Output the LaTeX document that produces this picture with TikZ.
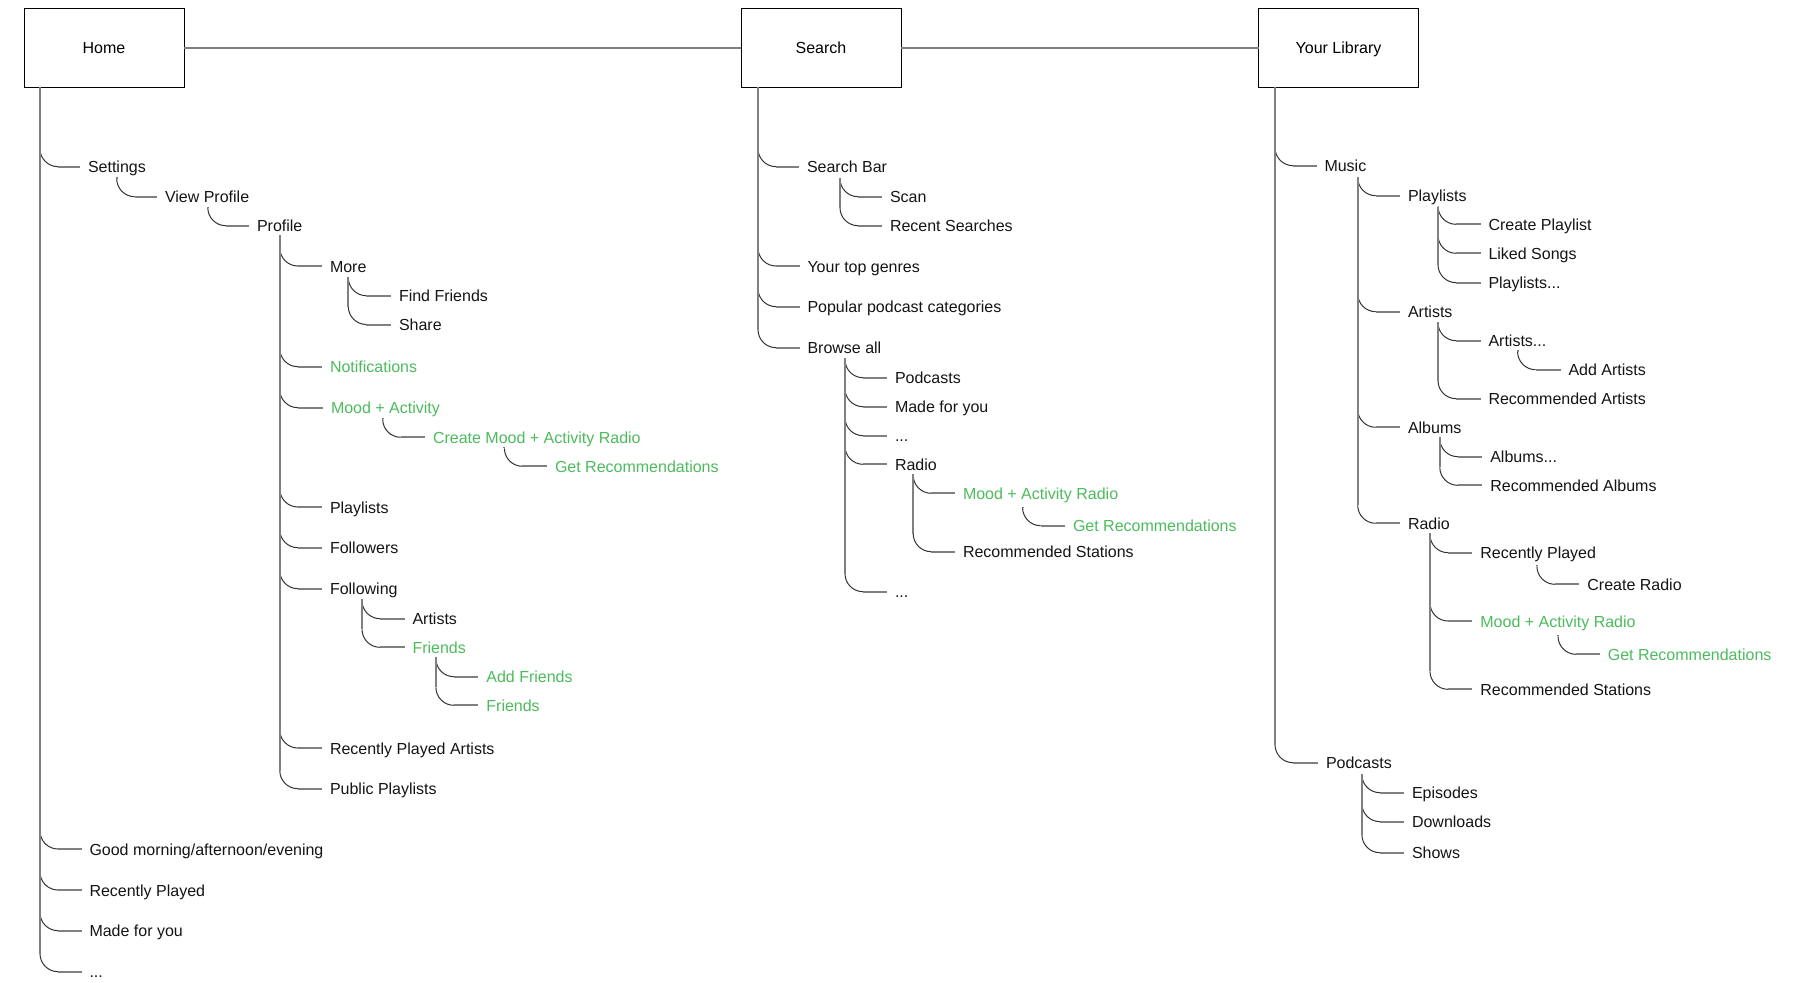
\documentclass[tikz,border=0pt]{standalone}
\usepackage{fontspec}
\setmainfont{Liberation Sans}
\definecolor{lgray}{RGB}{128,128,128}
\definecolor{grn}{RGB}{76,187,93}
\newlength\RR
\setlength\RR{18pt}
\tikzset{
  lbl/.style={anchor=base west, yshift=-6pt, inner sep=0pt, outer sep=0pt,
    font=\fontsize{16}{19}\selectfont, text=black!92},
  gtext/.style={text=grn},
  gline/.style={draw=lgray, line width=2pt},
  curv/.style={draw=black!80, line width=1pt},
  boxn/.style={draw=black, line width=1pt, minimum width=160pt, minimum height=79pt,
    inner sep=0pt, outer sep=0pt, text height=11.5pt, text depth=0pt,
    font=\fontsize{16}{19}\selectfont},
}
\newcommand\mkleaf[5][]{%
  \node[lbl,#1] (#2) at (#3,#4) {#5};
  \coordinate (#2-e) at ([xshift=-8pt,yshift=6pt]#2.base west);}
\newcommand\mktwig[2]{%
  \coordinate (#2-k) at (#1 |- #2-e);
  \draw[curv] ([yshift=\RR]#2-k) .. controls ([yshift=0.45\RR]#2-k) and ([xshift=0.45\RR]#2-k) .. ([xshift=\RR]#2-k);
  \draw[gline] ([xshift=\RR]#2-k) -- (#2-e);}
\begin{document}
\begin{tikzpicture}[x=1pt,y=-1pt]
\useasboundingbox (0,0) rectangle (1800,983);
\node[boxn] (home) at (104,47.5) {Home};
\node[boxn] (search) at (821,47.5) {Search};
\node[boxn] (library) at (1338.5,47.5) {Your Library};
\draw[gline] (home) -- (search);
\draw[gline] (search) -- (library);

% ---------------- Home
\coordinate (vHome) at ([xshift=16pt]home.south west);
\mkleaf{hSettings}{88}{166.7}{Settings}
\mkleaf{hGood}{89.5}{849}{Good morning/afternoon/evening}
\mkleaf{hRecent}{89.5}{890}{Recently Played}
\mkleaf{hMade}{89.5}{930.7}{Made for you}
\mkleaf{hDots}{89.5}{971.7}{...}
\mktwig{vHome}{hSettings}
\mktwig{vHome}{hGood}
\mktwig{vHome}{hRecent}
\mktwig{vHome}{hMade}
\mktwig{vHome}{hDots}
\draw[gline] (vHome) -- ([yshift=\RR]hDots-k);

\coordinate (vSet) at (116.7,176.7);
\mkleaf{hView}{165}{196.7}{View Profile}
\mktwig{vSet}{hView}
\draw[gline] (vSet) -- ([yshift=\RR]hView-k);

\coordinate (vView) at (207.8,206.7);
\mkleaf{hProfile}{257}{225.7}{Profile}
\mktwig{vView}{hProfile}
\draw[gline] (vView) -- ([yshift=\RR]hProfile-k);

\coordinate (vProf) at (279.8,235);
\mkleaf{hMore}{330}{266}{More}
\mkleaf[gtext]{hNotif}{330}{366.7}{Notifications}
\mkleaf[gtext]{hMood}{331}{407.7}{Mood + Activity}
\mkleaf{hPlay}{330}{507}{Playlists}
\mkleaf{hFollowers}{330}{547.7}{Followers}
\mkleaf{hFollowing}{330}{588.7}{Following}
\mkleaf{hRPA}{330}{748}{Recently Played Artists}
\mkleaf{hPublic}{330}{788.7}{Public Playlists}
\mktwig{vProf}{hMore}
\mktwig{vProf}{hNotif}
\mktwig{vProf}{hMood}
\mktwig{vProf}{hPlay}
\mktwig{vProf}{hFollowers}
\mktwig{vProf}{hFollowing}
\mktwig{vProf}{hRPA}
\mktwig{vProf}{hPublic}
\draw[gline] (vProf) -- ([yshift=\RR]hPublic-k);

\coordinate (vMore) at (348.3,276.7);
\mkleaf{hFind}{399}{295.7}{Find Friends}
\mkleaf{hShare}{399}{324.5}{Share}
\mktwig{vMore}{hFind}
\mktwig{vMore}{hShare}
\draw[gline] (vMore) -- ([yshift=\RR]hShare-k);

\coordinate (vMood) at (382.7,418.3);
\mkleaf[gtext]{hCreate}{433}{437.3}{Create Mood + Activity Radio}
\mktwig{vMood}{hCreate}
\draw[gline] (vMood) -- ([yshift=\RR]hCreate-k);

\coordinate (vCreate) at (504.4,446.7);
\mkleaf[gtext]{hGetRec}{555}{466.3}{Get Recommendations}
\mktwig{vCreate}{hGetRec}
\draw[gline] (vCreate) -- ([yshift=\RR]hGetRec-k);

\coordinate (vFollowing) at (362,599.3);
\mkleaf{hArtists}{412.5}{618.7}{Artists}
\mkleaf[gtext]{hFriends}{412.5}{647.3}{Friends}
\mktwig{vFollowing}{hArtists}
\mktwig{vFollowing}{hFriends}
\draw[gline] (vFollowing) -- ([yshift=\RR]hFriends-k);

\coordinate (vFriends) at (435.9,657.3);
\mkleaf[gtext]{hAddF}{486.4}{676.7}{Add Friends}
\mkleaf[gtext]{hFriendsB}{486.4}{705.3}{Friends}
\mktwig{vFriends}{hAddF}
\mktwig{vFriends}{hFriendsB}
\draw[gline] (vFriends) -- ([yshift=\RR]hFriendsB-k);

% ---------------- Search
\coordinate (vSearch) at ([xshift=17pt]search.south west);
\mkleaf{sBar}{807}{166.7}{Search Bar}
\mkleaf{sTop}{807.5}{266}{Your top genres}
\mkleaf{sPop}{807.5}{306.7}{Popular podcast categories}
\mkleaf{sBrowse}{807.5}{347.7}{Browse all}
\mktwig{vSearch}{sBar}
\mktwig{vSearch}{sTop}
\mktwig{vSearch}{sPop}
\mktwig{vSearch}{sBrowse}
\draw[gline] (vSearch) -- ([yshift=\RR]sBrowse-k);

\coordinate (vBar) at (840,178.3);
\mkleaf{sScan}{890}{196.7}{Scan}
\mkleaf{sRecent}{890}{225.7}{Recent Searches}
\mktwig{vBar}{sScan}
\mktwig{vBar}{sRecent}
\draw[gline] (vBar) -- ([yshift=\RR]sRecent-k);

\coordinate (vBrowse) at (845,358.3);
\mkleaf{sPod}{895}{377.7}{Podcasts}
\mkleaf{sMade}{895}{406.7}{Made for you}
\mkleaf{sDotsA}{895}{435.7}{...}
\mkleaf{sRadio}{895}{464.3}{Radio}
\mkleaf{sDotsB}{895}{591.7}{...}
\mktwig{vBrowse}{sPod}
\mktwig{vBrowse}{sMade}
\mktwig{vBrowse}{sDotsA}
\mktwig{vBrowse}{sRadio}
\mktwig{vBrowse}{sDotsB}
\draw[gline] (vBrowse) -- ([yshift=\RR]sDotsB-k);

\coordinate (vSRadio) at (913.2,474);
\mkleaf[gtext]{sMood}{963}{493.3}{Mood + Activity Radio}
\mkleaf{sRecSt}{963}{551.7}{Recommended Stations}
\mktwig{vSRadio}{sMood}
\mktwig{vSRadio}{sRecSt}
\draw[gline] (vSRadio) -- ([yshift=\RR]sRecSt-k);

\coordinate (vSMood) at (1022.6,506.7);
\mkleaf[gtext]{sGet}{1073}{525.7}{Get Recommendations}
\mktwig{vSMood}{sGet}
\draw[gline] (vSMood) -- ([yshift=\RR]sGet-k);

% ---------------- Your Library
\coordinate (vLib) at ([xshift=16.5pt]library.south west);
\mkleaf{lMusic}{1324.5}{165.7}{Music}
\mkleaf{lPod}{1326}{762.7}{Podcasts}
\mktwig{vLib}{lMusic}
\mktwig{vLib}{lPod}
\draw[gline] (vLib) -- ([yshift=\RR]lPod-k);

\coordinate (vMusic) at (1357.7,176.7);
\mkleaf{lPlay}{1408}{195.7}{Playlists}
\mkleaf{lArt}{1408}{311.7}{Artists}
\mkleaf{lAlb}{1408}{427.3}{Albums}
\mkleaf{lRadio}{1408}{523.3}{Radio}
\mktwig{vMusic}{lPlay}
\mktwig{vMusic}{lArt}
\mktwig{vMusic}{lAlb}
\mktwig{vMusic}{lRadio}
\draw[gline] (vMusic) -- ([yshift=\RR]lRadio-k);

\coordinate (vPlay) at (1438,206.7);
\mkleaf{lCreate}{1488.5}{224.3}{Create Playlist}
\mkleaf{lLiked}{1488.5}{253.3}{Liked Songs}
\mkleaf{lPlays}{1488.5}{282.7}{Playlists...}
\mktwig{vPlay}{lCreate}
\mktwig{vPlay}{lLiked}
\mktwig{vPlay}{lPlays}
\draw[gline] (vPlay) -- ([yshift=\RR]lPlays-k);

\coordinate (vArt) at (1438,321.7);
\mkleaf{lArts}{1488.5}{340.7}{Artists...}
\mkleaf{lRecArt}{1488.5}{398.7}{Recommended Artists}
\mktwig{vArt}{lArts}
\mktwig{vArt}{lRecArt}
\draw[gline] (vArt) -- ([yshift=\RR]lRecArt-k);

\coordinate (vArts) at (1517.6,350);
\mkleaf{lAddArt}{1568.5}{369.7}{Add Artists}
\mktwig{vArts}{lAddArt}
\draw[gline] (vArts) -- ([yshift=\RR]lAddArt-k);

\coordinate (vAlb) at (1439.8,437.3);
\mkleaf{lAlbs}{1490.3}{456.7}{Albums...}
\mkleaf{lRecAlb}{1490.3}{485.3}{Recommended Albums}
\mktwig{vAlb}{lAlbs}
\mktwig{vAlb}{lRecAlb}
\draw[gline] (vAlb) -- ([yshift=\RR]lRecAlb-k);

\coordinate (vLRadio) at (1430,533.3);
\mkleaf{lRP}{1480.4}{552.7}{Recently Played}
\mkleaf[gtext]{lMood}{1480.4}{621}{Mood + Activity Radio}
\mkleaf{lRecSt}{1480.4}{689.3}{Recommended Stations}
\mktwig{vLRadio}{lRP}
\mktwig{vLRadio}{lMood}
\mktwig{vLRadio}{lRecSt}
\draw[gline] (vLRadio) -- ([yshift=\RR]lRecSt-k);

\coordinate (vRP) at (1536.9,565);
\mkleaf{lCR}{1587.4}{584.3}{Create Radio}
\mktwig{vRP}{lCR}
\draw[gline] (vRP) -- ([yshift=\RR]lCR-k);

\coordinate (vLMood) at (1558,635);
\mkleaf[gtext]{lGet}{1607.8}{654.3}{Get Recommendations}
\mktwig{vLMood}{lGet}
\draw[gline] (vLMood) -- ([yshift=\RR]lGet-k);

\coordinate (vPod) at (1361.9,774.3);
\mkleaf{lEp}{1412}{792.7}{Episodes}
\mkleaf{lDown}{1412}{821.7}{Downloads}
\mkleaf{lShows}{1412}{852.7}{Shows}
\mktwig{vPod}{lEp}
\mktwig{vPod}{lDown}
\mktwig{vPod}{lShows}
\draw[gline] (vPod) -- ([yshift=\RR]lShows-k);
\end{tikzpicture}
\end{document}
